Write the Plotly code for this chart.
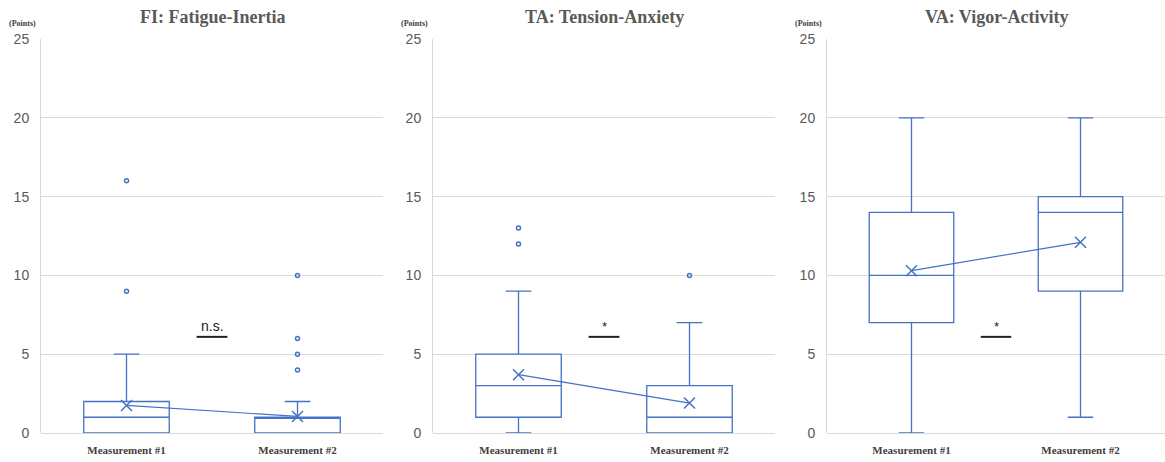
import plotly.graph_objects as go

categories = ["Measurement #1", "Measurement #2"]
titles = ["FI: Fatigue-Inertia", "TA: Tension-Anxiety", "VA: Vigor-Activity"]

# box statistics per panel: [M1, M2]
q1 = [[0, 0], [1, 0], [7, 9]]
median = [[1, 1], [3, 1], [10, 14]]
q3 = [[2, 1], [5, 3], [14, 15]]
lowerfence = [[0, 0], [0, 0], [0, 1]]
upperfence = [[5, 2], [9, 7], [20, 20]]
means = [[1.75, 1.05], [3.7, 1.9], [10.3, 12.1]]
outliers = [
    [[9, 16], [4, 5, 6, 10]],
    [[12, 13], [10]],
    [[], []],
]
sig_labels = ["n.s.", "*", "*"]
sig_level = 6.1
y_ticks = [0, 5, 10, 15, 20, 25]

BLUE = "#4472C4"
GRID = "#D9D9D9"
TXT = "#595959"

W, H = 1165, 462
TOP, BOT = 39, 433
x_domains = [[41 / W, 383 / W], [433 / W, 775 / W], [827 / W, 1.0]]

fig = go.Figure()
annotations = []
shapes = []
for i in range(3):
    sfx = "" if i == 0 else str(i + 1)
    xa, ya = "x" + sfx, "y" + sfx
    fig.add_trace(go.Box(
        x=categories, q1=q1[i], median=median[i], q3=q3[i],
        lowerfence=lowerfence[i], upperfence=upperfence[i],
        xaxis=xa, yaxis=ya, width=0.5, whiskerwidth=0.3,
        line=dict(color=BLUE, width=1.3), fillcolor="rgba(0,0,0,0)",
        boxpoints=False, showlegend=False, hoverinfo="skip",
    ))
    ox, oy = [], []
    for c, vals in zip(categories, outliers[i]):
        for v in vals:
            ox.append(c)
            oy.append(v)
    if ox:
        fig.add_trace(go.Scatter(
            x=ox, y=oy, mode="markers", xaxis=xa, yaxis=ya,
            marker=dict(symbol="circle-open", size=4, color=BLUE, line=dict(width=1.5)),
            showlegend=False, hoverinfo="skip",
        ))
    fig.add_trace(go.Scatter(
        x=categories, y=means[i], mode="lines+markers", xaxis=xa, yaxis=ya,
        line=dict(color=BLUE, width=1.2),
        marker=dict(symbol="x-thin-open", size=11, color=BLUE, line=dict(width=1.5, color=BLUE)),
        showlegend=False, hoverinfo="skip",
    ))
    # significance marks
    shapes.append(dict(type="line", xref=xa, yref=ya, x0=0.41, x1=0.59,
                       y0=sig_level, y1=sig_level, line=dict(color="#222222", width=2)))
    annotations.append(dict(xref=xa, yref=ya, x=0.5, y=sig_level, text=sig_labels[i],
                            showarrow=False, yanchor="bottom", yshift=1,
                            font=dict(family="Liberation Sans, Arial", size=14 if i == 0 else 13,
                                      color="#222222")))
    # title
    xc = (x_domains[i][0] + x_domains[i][1]) / 2
    annotations.append(dict(xref="paper", yref="paper", x=xc, y=1 + (TOP - 17) / (BOT - TOP),
                            text="<b>" + titles[i] + "</b>",
                            showarrow=False, yanchor="middle", xanchor="center",
                            font=dict(family="Liberation Serif, Times New Roman", size=18, color=TXT)))
    # (Points)
    annotations.append(dict(xref="paper", yref="paper", x=x_domains[i][0] - 3 / W,
                            y=1 + (TOP - 24) / (BOT - TOP),
                            text="<b>(Points)</b>", showarrow=False, xanchor="right", yanchor="middle",
                            font=dict(family="Liberation Serif, Times New Roman", size=8, color="#404040")))
    fig.update_layout({
        "xaxis" + sfx: dict(domain=x_domains[i], type="category", range=[-0.5, 1.5],
                            showgrid=False, showline=False, zeroline=False, ticks="",
                            tickfont=dict(family="Liberation Serif, Times New Roman", size=11, color="#404040"),
                            tickprefix="<b>", ticksuffix="</b>", anchor=ya, fixedrange=True,
                            automargin=False, ticklabelstandoff=9),
        "yaxis" + sfx: dict(domain=[0, 1], range=[0, 25], tickvals=y_ticks,
                            showgrid=True, gridcolor=GRID, gridwidth=1,
                            showline=True, linecolor=GRID, linewidth=1, zeroline=True,
                            zerolinecolor=GRID, zerolinewidth=1,
                            tickfont=dict(family="Liberation Sans, Arial", size=14, color=TXT),
                            ticks="", ticklabelstandoff=8, anchor=xa, fixedrange=True,
                            automargin=False),
    })

fig.update_layout(
    width=W, height=H, margin=dict(l=0, r=0, t=TOP, b=H - BOT, autoexpand=False),
    paper_bgcolor="white", plot_bgcolor="white",
    annotations=annotations, shapes=shapes, showlegend=False,
)
fig.write_html("out.html")
